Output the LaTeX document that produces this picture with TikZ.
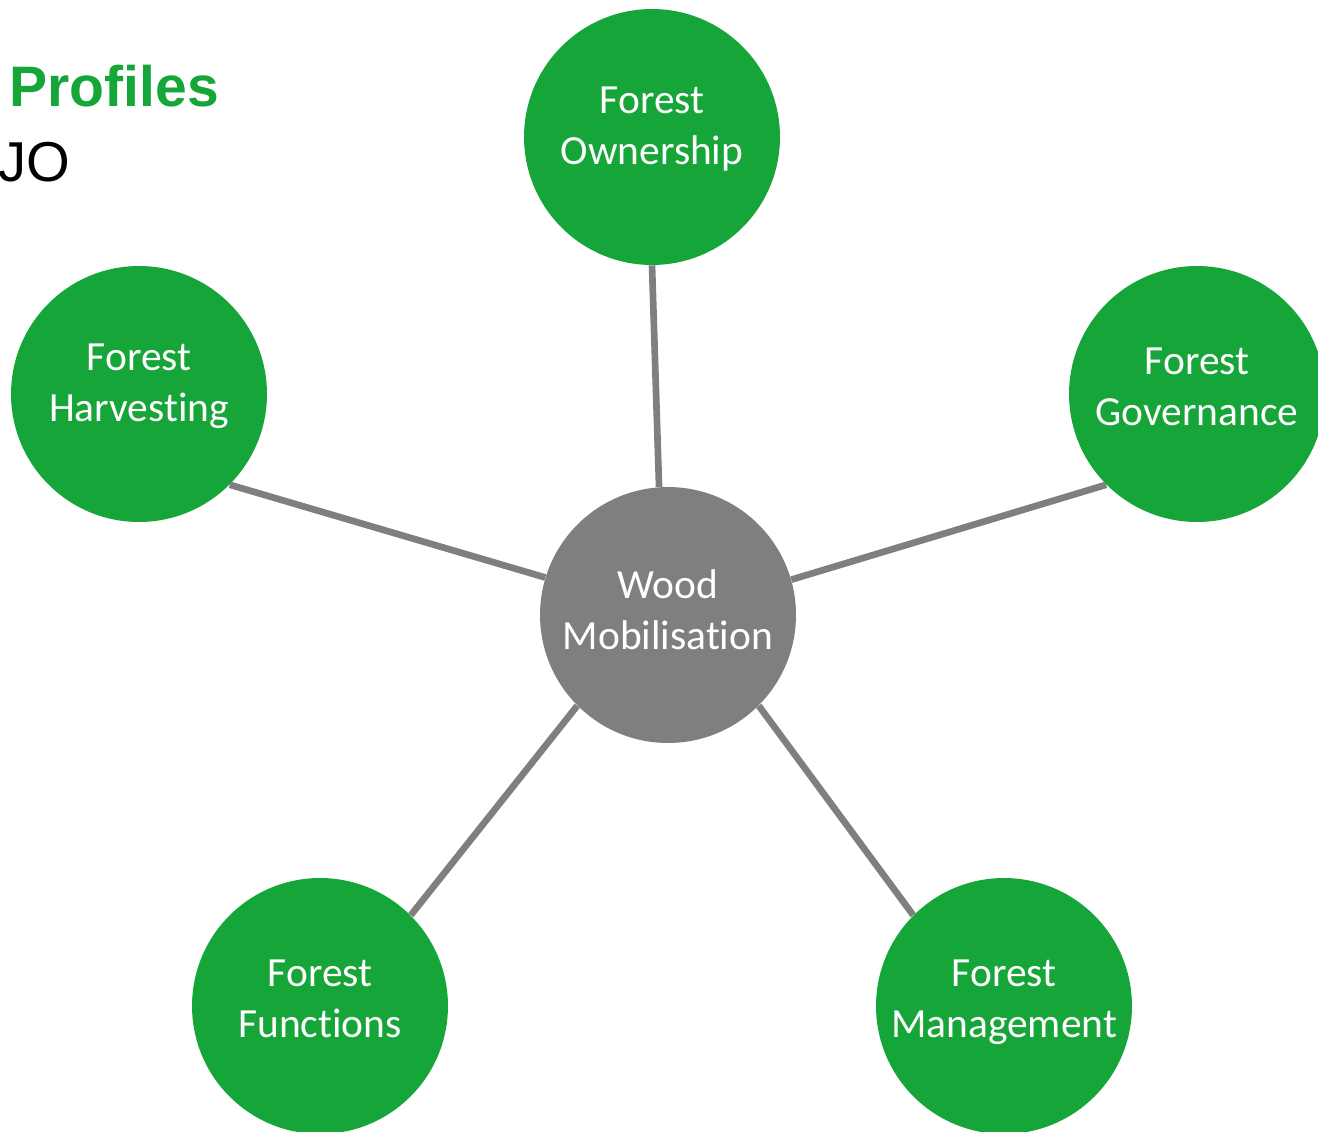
\documentclass[tikz,border=0pt]{standalone}
\usepackage{fontspec}
\setmainfont{Carlito}[Ligatures=NoCommon]
\newfontfamily\arialfont{Liberation Sans}
\definecolor{forestgreen}{HTML}{15A538}
\definecolor{hubgray}{HTML}{7F7F7F}

\tikzset{
  topic/.style={circle, fill=forestgreen, minimum size=5.12cm, inner sep=0pt,
    text=white, align=center, text depth=13pt, font=\fontsize{23.6}{29}\selectfont},
  lowtopic/.style={topic, text depth=8pt},
  hub/.style={topic, fill=hubgray, text depth=6pt},
  link/.style={draw=hubgray, line width=3.8pt}
}

\begin{document}
\begin{tikzpicture}[x=0.02cm, y=-0.02cm]
\clip (0,0) rectangle (1318,1132);
% Title
\node[anchor=base west, inner sep=0pt, text=forestgreen, font=\arialfont\bfseries\fontsize{32.5}{38}\selectfont] (title) at (9,107) {Profiles};
\node[anchor=base east, inner sep=0pt, font=\arialfont\fontsize{32}{38}\selectfont] (sub) at (71,181) {JO};
% Nodes
\node[hub] (wood) at (668,615) {Wood\\Mobilisation};
\node[topic] (own) at (652,137) {Forest\\Ownership};
\node[topic] (harv) at (139,394) {Forest\\Harvesting};
\node[lowtopic] (gov) at (1197,394) {Forest\\Governance};
\node[lowtopic] (func) at (320,1006) {Forest\\Functions};
\node[lowtopic] (mgmt) at (1004,1006) {Forest\\Management};
% Lines
\draw[link] (own.south) -- (wood.94);
\draw[link] (harv.south east) -- (wood.163);
\draw[link] (gov.south west) -- (wood.16);
\draw[link] (func.north east) -- (wood.south west);
\draw[link] (mgmt.north west) -- (wood.south east);
\end{tikzpicture}
\end{document}
